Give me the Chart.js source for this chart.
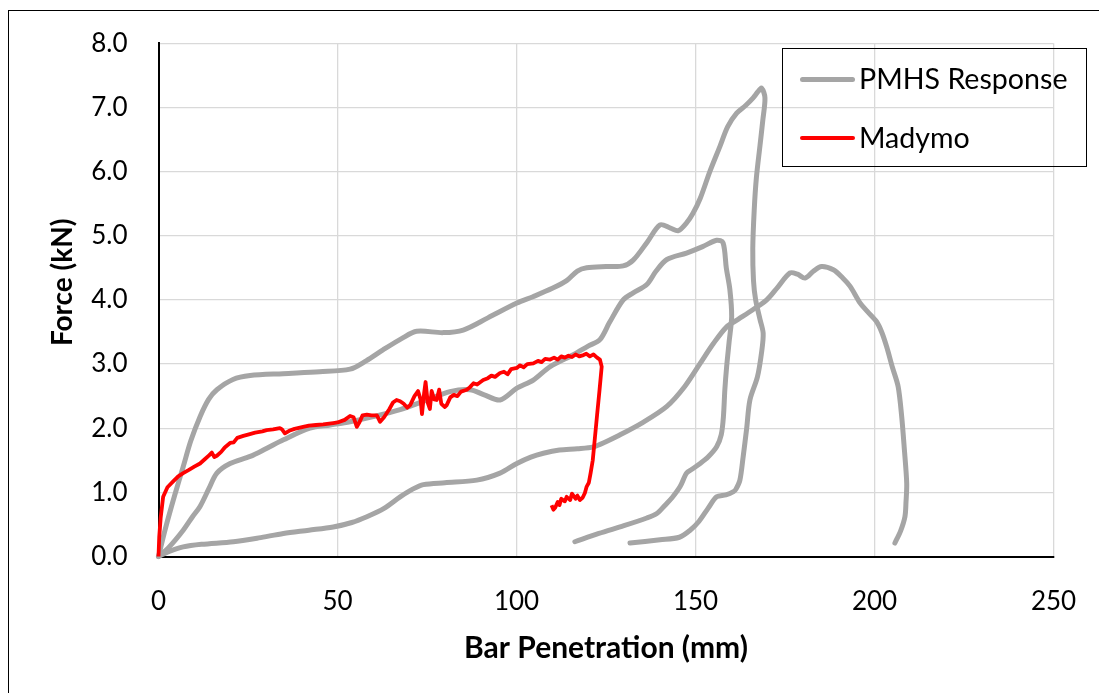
<!DOCTYPE html>
<html>
<head>
<meta charset="utf-8">
<title>Force vs Bar Penetration</title>
<script src="https://cdn.jsdelivr.net/npm/chart.js@4.4.1/dist/chart.umd.min.js"></script>
<style>
    html, body { margin: 0; padding: 0; background: #fff; overflow: hidden; }
    #wrap { position: relative; width: 1099px; height: 693px; }
    #frame {
        position: absolute; left: 8px; top: 10px; width: 1200px; height: 800px;
        border-left: 1.5px solid #000; border-top: 1.5px solid #000;
    }
    #myChart { position: absolute; left: 0; top: 0; }
    #legend {
        position: absolute; left: 782px; top: 48px; width: 305px; height: 119px;
        border: 1.5px solid #000; box-sizing: border-box;
        font-family: Lato, "Open Sans", sans-serif; font-size: 28.6px; color: #000;
    }
    .item { position: absolute; left: 0; height: 40px; line-height: 40px; white-space: nowrap; }
    .swatch { position: absolute; left: 17px; width: 55px; border-radius: 3px; }
    .item span { position: absolute; left: 76px; top: -1px; }
</style>
</head>
<body>
<div id="wrap">
    <div id="frame"></div>
    <canvas id="myChart" width="1099" height="693"></canvas>
    <div id="legend"></div>
</div>
<script>
// PMHS corridor curves (mm, kN)
var pmhs1X = [0, 2, 4.5, 6.9, 9, 11.6, 14, 16.3, 20.8, 25.6, 34.8, 45, 53.5, 58, 62.7, 68, 72.1, 79.5, 85.1, 92,
    100.1, 104.6, 110, 114, 117, 119.6, 125, 129.8, 132.6, 136.5, 140.1, 143, 145.2, 147.5, 149.3, 151.3, 154,
    156.8, 159, 161.5, 164, 166.1, 167.5, 168.5, 169.4, 168.8, 168, 167, 166.4, 166, 166.2, 166.8, 168, 168.9,
    168.5, 167.3, 165.2, 164.3, 163.3, 162.4, 161.3, 160.6, 158.5, 155.9, 153.5, 151, 148.5, 145.5, 140.1, 131.7];
var pmhs1Y = [0, 0.45, 0.95, 1.4, 1.8, 2.18, 2.45, 2.6, 2.76, 2.82, 2.85, 2.88, 2.92, 3.05, 3.22, 3.4, 3.51, 3.49, 3.53, 3.72,
    3.95, 4.05, 4.18, 4.3, 4.45, 4.5, 4.52, 4.53, 4.62, 4.9, 5.17, 5.12, 5.08, 5.2, 5.35, 5.58, 6.0,
    6.39, 6.7, 6.91, 7.03, 7.15, 7.25, 7.3, 7.15, 6.8, 6.4, 5.9, 5.4, 4.8, 4.3, 4.0, 3.7, 3.48,
    3.2, 2.8, 2.44, 2.0, 1.55, 1.19, 1.05, 1.01, 0.96, 0.93, 0.75, 0.55, 0.41, 0.3, 0.26, 0.21];

var pmhs2X = [0, 3, 6.9, 9.5, 11.6, 14, 16.3, 20, 25.6, 30, 34.9, 42.3, 48, 53.5, 60, 67.5, 75, 81.4, 87, 91, 95.4,
    100, 104.7, 109.4, 116, 120, 123.3, 126, 129.8, 132.6, 136.4, 139, 142, 147.5, 152, 155.9, 157.7, 158.6, 159.6,
    160.1, 159.4, 158.7, 158.2, 157.8, 157.2, 155.9, 153.5, 151.3, 149, 147.5, 145.7, 143.5, 141.5, 139.2, 136.4,
    130, 123, 116.3];
var pmhs2Y = [0, 0.15, 0.41, 0.62, 0.78, 1.05, 1.3, 1.45, 1.56, 1.68, 1.82, 2.0, 2.05, 2.1, 2.18, 2.29, 2.44, 2.57, 2.6, 2.52, 2.44,
    2.62, 2.75, 2.96, 3.15, 3.28, 3.38, 3.65, 4.0, 4.11, 4.24, 4.45, 4.63, 4.73, 4.83, 4.93, 4.89, 4.5, 4.16,
    3.74, 3.35, 2.96, 2.6, 2.18, 1.9, 1.71, 1.55, 1.45, 1.36, 1.3, 1.09, 0.92, 0.8, 0.67, 0.6,
    0.48, 0.36, 0.23];

var pmhs3X = [0, 3, 6.9, 12, 20.9, 28, 34.9, 42, 48.8, 54, 58.2, 63, 67.5, 71, 74, 80, 88.9, 95.4, 100.1, 104, 107.5,
    112, 117, 121.5, 125, 128, 135, 142, 147, 151.3, 155, 158.7, 162, 166.1, 169.9, 173, 176.4, 178.5, 180.6, 183,
    185.2, 188.5, 191, 193.2, 196, 198, 200.6, 202, 203.4, 205, 206.6, 207.6, 208.3, 209, 208.8, 208.5, 207.3, 205.7];
var pmhs3Y = [0, 0.08, 0.15, 0.19, 0.23, 0.29, 0.36, 0.41, 0.46, 0.53, 0.62, 0.75, 0.93, 1.05, 1.12, 1.15, 1.19, 1.3, 1.45, 1.55, 1.61,
    1.66, 1.68, 1.71, 1.79, 1.87, 2.08, 2.34, 2.65, 3.01, 3.32, 3.58, 3.7, 3.85, 4.0, 4.2, 4.42, 4.4, 4.34, 4.45,
    4.52, 4.47, 4.35, 4.21, 3.95, 3.82, 3.66, 3.5, 3.27, 2.95, 2.65, 2.18, 1.7, 1.14, 0.85, 0.62, 0.4, 0.21];

// Madymo simulation output
var madymoX = [0, 0.2, 0.6, 1.3, 2.5, 4.1, 5.5, 6.9, 8.5, 10, 11.6, 13, 14.2, 14.9, 15.6, 16.3, 17.5, 18.5, 20, 21, 22,
    23.7, 25, 27, 29, 30.2, 32, 33.9, 34.5, 35.3, 36.5, 38, 40.4, 42, 44, 46, 48.8, 50, 52, 53.5, 54.5, 55.4, 56.2,
    57, 58.2, 59.5, 61, 61.9, 63, 64.5, 65.5, 66.5, 67.5, 68.5, 69.5, 70.3, 71.5, 72.5, 73.2, 73.6, 74.2, 74.6,
    75.2, 75.8, 76.3, 77, 77.7, 78.4, 79, 80, 80.5, 81.5, 82.5, 83.5, 84.5, 86.1, 87, 88, 89, 90.7, 92, 93, 94,
    95.4, 96.5, 97.5, 98.5, 100.1, 101, 102, 103, 104.7, 106, 107, 108, 109.4, 110.5, 111.5, 112.5, 113.5, 114.5,
    115.5, 116.5, 117.5, 118.7, 119.5, 120.5, 121.5, 122.5, 123.3, 123.8, 123.2, 122.5, 121.9, 121.3, 120.7, 120.2,
    119.6, 119.1, 118.5, 117.7, 117, 116.5, 115.5, 115, 114, 113.5, 112.5, 112, 111.5, 110.8, 110.3, 109.8];
var madymoY = [0, 0.3, 0.6, 0.93, 1.08, 1.17, 1.25, 1.3, 1.35, 1.4, 1.45, 1.52, 1.58, 1.62, 1.55, 1.57, 1.63, 1.7, 1.77, 1.78, 1.85,
    1.88, 1.9, 1.93, 1.95, 1.97, 1.98, 2.0, 1.98, 1.92, 1.96, 1.99, 2.02, 2.04, 2.05, 2.06, 2.08, 2.09, 2.13, 2.19, 2.17, 2.02, 2.1,
    2.2, 2.21, 2.2, 2.2, 2.1, 2.17, 2.3, 2.4, 2.44, 2.42, 2.38, 2.32, 2.36, 2.5, 2.58, 2.45, 2.22, 2.55, 2.72,
    2.4, 2.3, 2.58, 2.45, 2.44, 2.6, 2.38, 2.33, 2.36, 2.48, 2.52, 2.5, 2.57, 2.6, 2.64, 2.7, 2.68, 2.75, 2.78, 2.82, 2.8,
    2.86, 2.88, 2.84, 2.92, 2.94, 2.98, 2.95, 3.0, 3.01, 3.05, 3.03, 3.08, 3.07, 3.1, 3.07, 3.12, 3.1, 3.13,
    3.11, 3.15, 3.12, 3.14, 3.16, 3.12, 3.15, 3.1, 3.07, 2.96, 2.6, 2.2, 1.85, 1.5, 1.3, 1.15,
    1.09, 0.99, 0.92, 0.88, 0.95, 0.9, 0.98, 0.88, 0.93, 0.86, 0.9, 0.8, 0.85, 0.76, 0.73, 0.8];

var grey = '#a5a5a5';
var red = '#ff0000';
var fontFamily = 'Lato, "Open Sans", sans-serif';

function toPoints(xs, ys) {
    return xs.map(function (x, i) {
        return { x: x, y: ys[i] };
    });
}

function pmhsSet(xs, ys) {
    return {
        label: 'PMHS Response',
        data: toPoints(xs, ys),
        borderColor: grey,
        backgroundColor: grey,
        borderWidth: 5,
        borderCapStyle: 'round',
        borderJoinStyle: 'round',
        tension: 0.3,
        order: 1
    };
}

// axis titles drawn at fixed offsets from the plot area
var axisTitles = {
    id: 'axisTitles',
    afterDraw: function (chart) {
        var ctx = chart.ctx;
        var area = chart.chartArea;
        ctx.save();
        ctx.fillStyle = '#000';
        ctx.textAlign = 'center';
        ctx.textBaseline = 'middle';
        ctx.font = 'bold 30px ' + fontFamily;
        ctx.fillText('Bar Penetration (mm)', (area.left + area.right) / 2, area.bottom + 92);
        ctx.font = 'bold 28px ' + fontFamily;
        ctx.translate(area.left - 96, area.top + 239);
        ctx.rotate(-Math.PI / 2);
        ctx.fillText('Force (kN)', 0, 0);
        ctx.restore();
    }
};

var ctx = document.getElementById('myChart').getContext('2d');
var myChart = new Chart(ctx, {
    type: 'scatter',
    data: {
        datasets: [
            pmhsSet(pmhs1X, pmhs1Y),
            pmhsSet(pmhs2X, pmhs2Y),
            pmhsSet(pmhs3X, pmhs3Y),
            {
                label: 'Madymo',
                data: toPoints(madymoX, madymoY),
                borderColor: red,
                backgroundColor: red,
                borderWidth: 3.8,
                borderJoinStyle: 'round',
                tension: 0,
                order: 0
            }
        ]
    },
    options: {
        responsive: false,
        animation: false,
        showLine: true,
        clip: false,
        elements: { point: { radius: 0, hoverRadius: 0 } },
        layout: { padding: { top: 43.3, right: 45.5, left: 0, bottom: 0 } },
        plugins: {
            legend: { display: false },
            tooltip: { enabled: false }
        },
        scales: {
            x: {
                type: 'linear',
                min: 0,
                max: 250,
                ticks: {
                    stepSize: 50,
                    padding: 30,
                    color: '#000',
                    font: { family: fontFamily, size: 26 }
                },
                grid: { color: '#d9d9d9', lineWidth: 1.3, drawTicks: false },
                border: { color: '#000', width: 2 },
                afterFit: function (scale) {
                    scale.height = 136.5;
                    scale.paddingLeft = 0;
                    scale.paddingRight = 0;
                }
            },
            y: {
                min: 0,
                max: 8,
                ticks: {
                    stepSize: 1,
                    padding: 31,
                    color: '#000',
                    font: { family: fontFamily, size: 26 },
                    callback: function (value) { return value.toFixed(1); }
                },
                grid: { color: '#d9d9d9', lineWidth: 1.3, drawTicks: false },
                border: { color: '#000', width: 2 },
                afterFit: function (scale) {
                    scale.width = 158.5;
                    scale.paddingTop = 0;
                    scale.paddingBottom = 0;
                }
            }
        }
    },
    plugins: [axisTitles]
});

// legend box inside the plot, one row per series name
var legend = document.getElementById('legend');
var seen = {};
var row = 0;
myChart.data.datasets.forEach(function (ds) {
    if (seen[ds.label]) return;
    seen[ds.label] = true;
    var item = document.createElement('div');
    item.className = 'item';
    item.style.top = (10 + row * 59) + 'px';
    var swatch = document.createElement('div');
    swatch.className = 'swatch';
    swatch.style.background = ds.borderColor;
    swatch.style.height = ds.borderWidth + 'px';
    swatch.style.top = (20 - ds.borderWidth / 2) + 'px';
    var text = document.createElement('span');
    text.textContent = ds.label;
    item.appendChild(swatch);
    item.appendChild(text);
    legend.appendChild(item);
    row++;
});
</script>
</body>
</html>
